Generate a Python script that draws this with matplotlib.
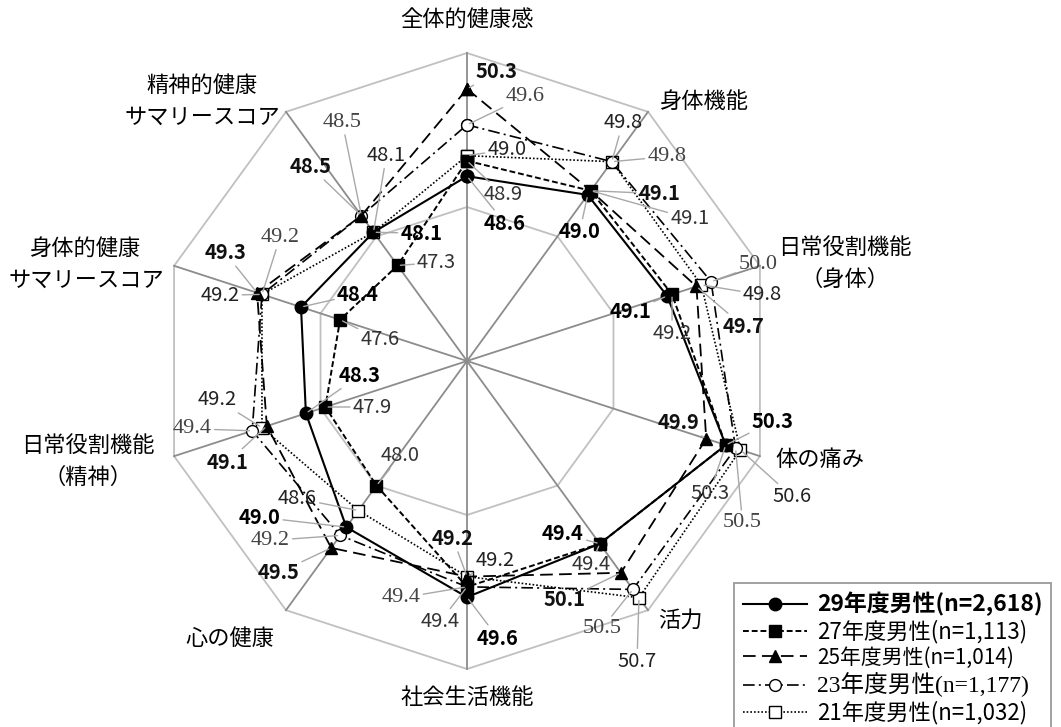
import numpy as np
import matplotlib
matplotlib.use("Agg")
import matplotlib.pyplot as plt

plt.rcParams['font.family'] = ['Noto Sans CJK JP', 'DejaVu Sans']

# 軸の項目（上から時計回り）
categories = ['全体的健康感', '身体機能', '日常役割機能\n（身体）', '体の痛み', '活力',
              '社会生活機能', '心の健康', '日常役割機能\n（精神）',
              '身体的健康\nサマリースコア', '精神的健康\nサマリースコア']

# 各年度の得点
v29 = [48.6, 49.0, 49.1, 50.3, 49.4, 49.6, 49.0, 48.3, 48.4, 48.1]
v27 = [48.9, 49.1, 49.2, 50.3, 49.4, 49.4, 48.0, 47.9, 47.6, 47.3]
v25 = [50.3, 49.1, 49.7, 49.9, 50.1, 49.2, 49.5, 49.1, 49.3, 48.5]
v23 = [49.6, 49.8, 50.0, 50.5, 50.5, 49.4, 49.2, 49.4, 49.2, 48.5]
v21 = [49.0, 49.8, 49.8, 50.6, 50.7, 49.2, 48.6, 49.2, 49.2, 48.1]

series_names = ['29年度男性(n=2,618)', '27年度男性(n=1,113)', '25年度男性(n=1,014)',
                '23年度男性(n=1,177)', '21年度男性(n=1,032)']

# 数値ラベルの位置（点からのずれ, px, 右/下）
off29 = [(38, 47), (-8, 37), (-37, 16), (47, -24), (-37, -10), (31, 41), (-87, -10), (54, -38), (57, -13), (48, 1)]
off27 = [(36, 34), (99, 28), (0, 39), (-16, 48), (-9, 21), (-27, 35), (24, -30), (47, 0), (40, 20), (39, -3)]
off25 = [(30, -17), (69, 3), (47, 40), (-28, -16), (-56, 27), (-14, -38), (-53, 25), (-39, 36), (-32, -40), (-51, -49)]
off23 = [(58, -28), (55, -5), (47, -17), (7, 74), (-31, 39), (-66, 11), (-70, 5), (-60, -2), (18, -57), (-19, -93)]
off21 = [(40, -6), (11, -39), (61, 10), (52, 47), (-2, 64), (28, -16), (-61, -12), (-45, -28), (-42, 1), (13, -77)]

W, H = 1061, 727
fig = plt.figure(figsize=(W / 100, H / 100), dpi=100)
cx, cy, R = 467, 361, 308
ax = fig.add_axes([(cx - R) / W, (H - cy - R) / H, 2 * R / W, 2 * R / H], projection='polar')
ax.set_theta_zero_location('N')
ax.set_theta_direction(-1)
ax.set_ylim(45, 51)
ax.axis('off')

theta = np.deg2rad(np.arange(len(categories)) * 360 / len(categories))
tc = np.append(theta, theta[0])

# 目盛りの十角形とスポーク
for rv in [48, 51]:
    ax.plot(tc, [rv] * len(tc), color='#c0c0c0', lw=1.3, zorder=1, clip_on=False)
for t in theta:
    ax.plot([t, t], [45, 51], color='#8c8c8c', lw=1.3, zorder=1, clip_on=False)

styles = [
    dict(ls='-', marker='o', mfc='black', ms=9, lw=1.5),
    dict(ls=(0, (3, 1.5)), marker='s', mfc='black', ms=9, lw=1.4),
    dict(ls=(0, (7, 3.5)), marker='^', mfc='black', ms=8, lw=1.3),
    dict(ls=(0, (7, 2.5, 1.2, 2.5)), marker='o', mfc='white', ms=8.5, lw=1.2),
    dict(ls=(0, (1, 1.2)), marker='s', mfc='white', ms=9, lw=1.2),
]
fonts = [
    dict(family=['Noto Sans CJK JP'], weight='bold', size=14.5, color='black'),
    dict(family=['Noto Sans CJK JP'], weight='normal', size=14.5, color='#333333'),
    dict(family=['Noto Sans CJK JP'], weight='bold', size=14.5, color='#111111'),
    dict(family=['Liberation Serif', 'Noto Sans CJK JP'], weight='normal', size=16, color='#444444'),
    dict(family=['Noto Sans CJK JP'], weight='normal', size=14.5, color='#222222'),
]
data = [v29, v27, v25, v23, v21]
offs = [off29, off27, off25, off23, off21]
zs = [7, 6, 5, 4, 3]

handles = []
for vals, st, fp, of, z in zip(data, styles, fonts, offs, zs):
    line, = ax.plot(tc, np.append(vals, vals[0]), color='black', mec='black', zorder=z,
                    clip_on=False, **st)
    handles.append(line)
    for t, v, (dx, dy) in zip(theta, vals, of):
        ax.annotate(f'{v:.1f}', xy=(t, v), xytext=(dx, -dy), textcoords='offset pixels',
                    ha='center', va='center', zorder=8, annotation_clip=False,
                    arrowprops=dict(arrowstyle='-', color='#a8a8a8', lw=1,
                                    shrinkA=0, shrinkB=2),
                    **fp)

# 項目名
cat_pos = [(467, 20), (704, 102), (845, 263), (820, 460), (680, 620),
           (467, 697), (230, 638), (88, 461), (86, 264), (202, 101)]
for name, (x, y) in zip(categories, cat_pos):
    fig.text(x / W, 1 - y / H, name, ha='center', va='center', fontsize=16,
             linespacing=1.5)

# 凡例
leg = fig.legend(handles, series_names, loc='upper left',
                 bbox_to_anchor=(734 / W, 1 - 583 / H), frameon=True, fancybox=False,
                 edgecolor='#808080', handlelength=3.0, numpoints=1,
                 labelspacing=0.16, borderpad=0.4, handletextpad=0.45, fontsize=15.5,
                 borderaxespad=0)
leg.get_frame().set_linewidth(1.3)
leg_sizes = [16.5, 16, 15, 17, 16]
for txt, fp, sz in zip(leg.get_texts(), fonts, leg_sizes):
    txt.set_family(fp['family'])
    txt.set_weight(fp['weight'])
    txt.set_fontsize(sz)
    txt.set_color('black')
leg.get_texts()[2].set_weight('normal')

fig.savefig('out.png', dpi=100)
